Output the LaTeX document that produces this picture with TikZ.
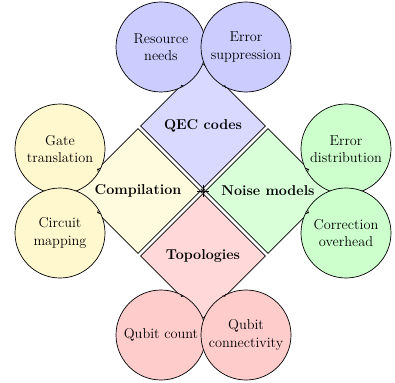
\documentclass[tikz,border=0pt]{standalone}
\usetikzlibrary{shapes.geometric}
\definecolor{qecD}{RGB}{217,217,255}
\definecolor{qecC}{RGB}{204,204,255}
\definecolor{cmpD}{RGB}{255,251,222}
\definecolor{cmpC}{RGB}{255,248,206}
\definecolor{nsD}{RGB}{217,255,217}
\definecolor{nsC}{RGB}{204,255,204}
\definecolor{tpD}{RGB}{255,217,217}
\definecolor{tpC}{RGB}{255,204,204}
\begin{document}
\begin{tikzpicture}[x=1pt,y=-1pt,
  font=\fontsize{14.3}{17.5}\selectfont,
  dia/.style={diamond, aspect=1, draw, line width=0.7pt, minimum width=125, minimum height=125, inner sep=0pt, font=\bfseries\fontsize{14.3}{17}\selectfont},
  bub/.style={circle, draw, line width=0.7pt, minimum size=90, inner sep=0pt, align=center},
  tipline/.style={->, line width=0.7pt}]
\useasboundingbox (0,0) rectangle (395,382);
\coordinate (c) at (203,191);
% diamonds
\node[dia, fill=qecD] (qec) at (203,126) {QEC codes};
\node[dia, fill=cmpD] (comp) at (138,191) {Compilation};
\node[dia, fill=nsD] (noise) at (268,191) {Noise models};
\node[dia, fill=tpD] (topo) at (203,256) {Topologies};
% arrows to centre
\draw[tipline, shorten <=-4pt] (qec) -- (c);
\draw[tipline, shorten <=-4pt] (comp) -- (c);
\draw[tipline, shorten <=-4pt] (noise) -- (c);
\draw[tipline, shorten <=-4pt] (topo) -- (c);
% circles
\node[bub, fill=qecC] (res) at (161,47) {Resource\\needs};
\node[bub, fill=qecC] (sup) at (246,47) {Error\\suppression};
\node[bub, fill=cmpC] (gate) at (60,149) {Gate\\translation};
\node[bub, fill=cmpC] (circ) at (60,233) {Circuit\\mapping};
\node[bub, fill=nsC] (errd) at (346,149) {Error\\distribution};
\node[bub, fill=nsC] (corr) at (346,233) {Correction\\overhead};
\node[bub, fill=tpC] (qcnt) at (161,335) {Qubit count};
\node[bub, fill=tpC] (qcon) at (246,335) {Qubit\\connectivity};
% arrows circle to diamond
\draw[tipline] (res) -- (qec);
\draw[tipline] (sup) -- (qec);
\draw[tipline] (gate) -- (comp);
\draw[tipline] (circ) -- (comp);
\draw[tipline] (errd) -- (noise);
\draw[tipline] (corr) -- (noise);
\draw[tipline] (qcnt) -- (topo);
\draw[tipline] (qcon) -- (topo);
\end{tikzpicture}
\end{document}
